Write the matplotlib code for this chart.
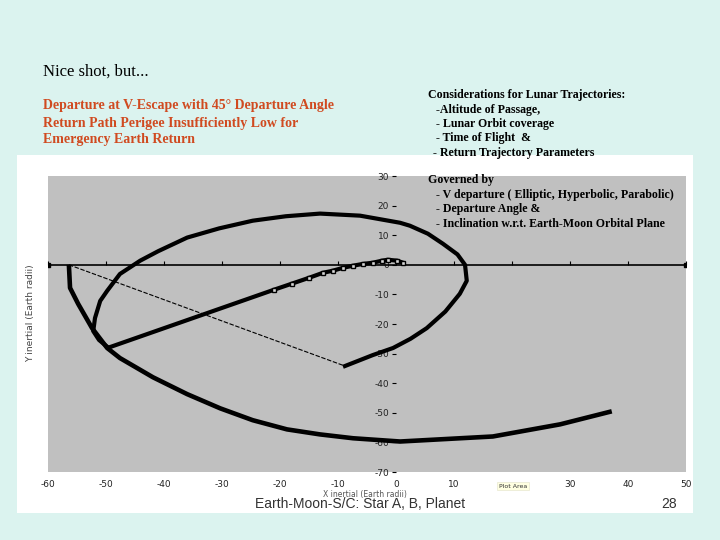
import matplotlib
matplotlib.use("Agg")
import matplotlib.pyplot as plt
from matplotlib.patches import Rectangle
plt.rcParams["axes.unicode_minus"] = False  # hyphen minus like the original

# spacecraft departure leg near Earth (points drawn with markers)
dep_x = [1.2, 0.2, -1.4, -2.4, -4.0, -5.7, -7.4, -9.1, -10.9, -12.6, -15.0, -18.0, -21.0, -49.6]
dep_y = [0.7, 1.4, 1.7, 1.4, 0.7, 0.3, -0.3, -1.0, -2.0, -2.7, -4.4, -6.4, -8.4, -28.0]

# return loop of the spacecraft
loop_x = [-49.6, -51.2, -52.2, -51.9, -51.0, -49.8, -47.6, -44.1, -41.0, -36.0, -30.5, -24.7, -19.0,
          -13.1, -6.2, 0.7, 2.4, 5.5, 8.1, 10.6, 11.9, 12.2, 11.0, 8.5, 5.3, 2.5, -0.5, -4.0, -8.8]
loop_y = [-28.0, -25.4, -22.4, -18.0, -12.2, -8.8, -3.1, 1.4, 4.6, 9.2, 12.3, 14.9, 16.4,
          17.3, 16.6, 14.2, 13.2, 10.5, 7.1, 3.5, 0.0, -5.4, -9.8, -15.8, -21.4, -25.0, -28.1, -30.5, -34.2]

# moon orbit arc
moon_x = [-56.4, -56.2, -54.8, -52.4, -49.8, -47.6, -41.9, -36.0, -30.3, -24.7, -18.8, -13.1, -7.4,
          0.7, 16.7, 28.3, 37.2]
moon_y = [0.0, -7.8, -13.2, -21.4, -28.1, -31.5, -38.0, -43.7, -48.5, -52.5, -55.6, -57.3, -58.6,
          -59.7, -58.0, -53.9, -49.5]

# thin link moon start -> spacecraft end
link_x = [-56.4, -8.8]
link_y = [0.0, -34.2]

# x axis line (series with end markers)
axis_x = [-60, 50]
axis_y = [0, 0]

x_ticks = [-60, -50, -40, -30, -20, -10, 0, 10, 20, 30, 40, 50]
y_ticks = [-70, -60, -50, -40, -30, -20, -10, 0, 10, 20, 30]

W, H = 720, 540


def fx(px):
    return px / W


def fy(py):
    return 1 - py / H


fig = plt.figure(figsize=(7.2, 5.4), dpi=100, facecolor="#dbf3ef")

# white chart panel
fig.add_artist(Rectangle((fx(17), fy(513)), (693 - 17) / W, (513 - 155) / H,
                         transform=fig.transFigure, facecolor="white", edgecolor="none", zorder=0))

ax = fig.add_axes([fx(48), fy(472), (686 - 48) / W, (472 - 176) / H])
ax.set_facecolor("#c0c0c0")
ax.set_xlim(-60, 50)
ax.set_ylim(-70, 30)

ax.plot(axis_x, axis_y, color="black", lw=1.2, marker="s", ms=3, zorder=2)
ax.plot(link_x, link_y, color="black", lw=0.8, ls=(0, (4, 1.5)), zorder=3)
ax.plot(moon_x, moon_y, color="black", lw=3.3, solid_capstyle="butt", zorder=4)
ax.plot(loop_x, loop_y, color="black", lw=3.0, solid_joinstyle="round", zorder=4)
ax.plot(dep_x, dep_y, color="black", lw=3.0, marker="s", ms=3.5, mfc="#d8d8d8", mec="black",
        mew=1.0, markevery=slice(0, -1), zorder=5)

for s in ax.spines.values():
    s.set_visible(False)

ax.spines["left"].set_position(("data", 0))
ax.set_yticks(y_ticks)
ax.set_xticks(x_ticks)
ax.tick_params(axis="y", direction="out", length=3, width=0.8, pad=2, labelsize=6.5, labelcolor="#222")
ax.tick_params(axis="x", length=0, pad=6, labelsize=6.5, labelcolor="#222")

# the "20" label sits under the Plot Area tooltip in the original
for lab in ax.get_xticklabels():
    if lab.get_text() == "20":
        lab.set_visible(False)

# tick marks on the y=0 line
sec = ax.secondary_xaxis(0.7)
sec.set_xticks(x_ticks)
sec.xaxis.set_ticks_position("bottom")
sec.tick_params(direction="in", length=3, width=0.8, labelbottom=False, labeltop=False)
for s in sec.spines.values():
    s.set_visible(False)

# axis titles
fig.text(fx(31), fy(313), "Y inertial (Earth radii)", rotation=90, ha="center", va="center",
         fontsize=6.5, color="#444")
fig.text(fx(365), fy(494), "X inertial (Earth radii)", ha="center", va="center",
         fontsize=5.5, color="#555")
fig.text(fx(513), fy(486), "Plot Area", ha="center", va="center", fontsize=4.5, color="#333",
         bbox=dict(boxstyle="square,pad=0.3", facecolor="#ffffe1", edgecolor="#e8e8d0", lw=0.5))

# slide texts
serif = "Liberation Serif"
fig.text(fx(43), fy(72), "Nice shot, but...", ha="left", va="center", fontsize=12,
         family=serif, color="black")

red = "#d04a20"
red_lines = ["Departure at V-Escape with 45° Departure Angle",
             "Return Path Perigee Insufficiently Low for",
             "Emergency Earth Return"]
for txt, py in zip(red_lines, [106, 123, 140]):
    fig.text(fx(43), fy(py), txt, ha="left", va="center", fontsize=10, family=serif,
             fontweight="bold", color=red)

right_lines = [("Considerations for Lunar Trajectories:", 428, 95),
               ("-Altitude of Passage,", 436, 110),
               ("- Lunar Orbit coverage", 436, 124),
               ("- Time of Flight  &", 436, 138),
               ("- Return Trajectory Parameters", 433, 153),
               ("Governed by", 428, 180),
               ("- V departure ( Elliptic, Hyperbolic, Parabolic)", 436, 195),
               ("- Departure Angle &", 436, 209),
               ("- Inclination w.r.t. Earth-Moon Orbital Plane", 436, 224)]
for txt, px, py in right_lines:
    fig.text(fx(px), fy(py), txt, ha="left", va="center", fontsize=8.6, family=serif,
             fontweight="bold", color="black")

fig.text(fx(255), fy(504), "Earth-Moon-S/C: Star A, B, Planet", ha="left", va="center",
         fontsize=10, family="Liberation Sans", color="#333")
fig.text(fx(677), fy(504), "28", ha="right", va="center", fontsize=10,
         family="Liberation Sans", color="#333")

fig.savefig("out.png", dpi=100, facecolor=fig.get_facecolor())
